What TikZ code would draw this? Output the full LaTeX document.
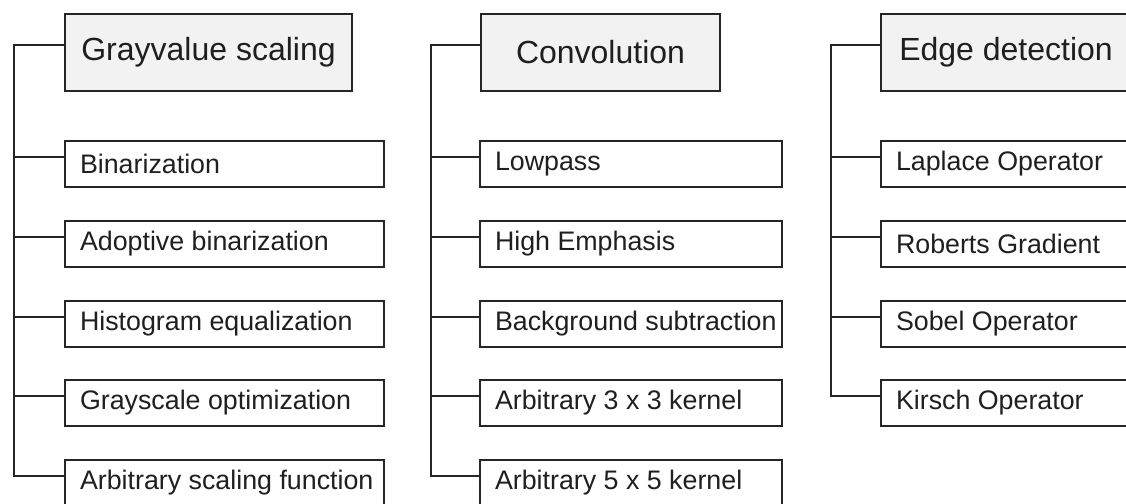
\documentclass[tikz,border=0pt]{standalone}
\usepackage{fontspec}
\setmainfont{Liberation Sans}
\usetikzlibrary{calc}
\begin{document}
\begin{tikzpicture}[x=1pt,y=-1pt,
  base/.style={draw=black!85, rectangle, text=black!88, line width=2pt, inner ysep=0pt, anchor=north west},
  headbox/.style={base, minimum width=#1, minimum height=77pt, fill=black!5,
    font=\fontsize{32}{38}\selectfont, inner xsep=0pt},
  itembox/.style={base, minimum height=46pt, inner xsep=15pt,
    font=\fontsize{26.8}{31}\selectfont,
    execute at begin node={\hbox to #1\bgroup}, execute at end node={\hss\egroup}},
  link/.style={draw=black!85, line width=2pt}]
\useasboundingbox (0,0) rectangle (1126,503);
\fill[white] (0,0) rectangle (1126,503);

% column 1
\node[headbox=287pt] (h1) at (64,13) {Grayvalue scaling};
\node[itembox=289pt] (c11) at (64,140) {Binarization};
\node[itembox=289pt] (c12) at (64,220) {Adoptive binarization};
\node[itembox=289pt] (c13) at (64,300) {Histogram equalization};
\node[itembox=289pt] (c14) at (64,379) {Grayscale optimization};
\node[itembox=289pt] (c15) at (64,459) {Arbitrary scaling function};
\coordinate (t1) at (14,0);

% column 2
\node[headbox=239pt] (h2) at (480,13) {Convolution};
\node[itembox=272pt] (c21) at (479,140) {Lowpass};
\node[itembox=272pt] (c22) at (479,220) {High Emphasis};
\node[itembox=272pt] (c23) at (479,300) {Background subtraction};
\node[itembox=272pt] (c24) at (479,379) {Arbitrary 3 x 3 kernel};
\node[itembox=272pt] (c25) at (479,459) {Arbitrary 5 x 5 kernel};
\coordinate (t2) at (431,0);

% column 3
\node[headbox=250pt] (h3) at (880,13) {Edge detection};
\node[itembox=272pt] (c31) at (880,140) {Laplace Operator};
\node[itembox=272pt] (c32) at (880,220) {Roberts Gradient};
\node[itembox=272pt] (c33) at (880,300) {Sobel Operator};
\node[itembox=272pt] (c34) at (880,379) {Kirsch Operator};
\coordinate (t3) at (831,0);

% branch points
\foreach \n in {h1,h2,h3}
  \coordinate (\n-b) at ($(\n.north west)!0.4!(\n.south west)$);
\foreach \n in {c11,c12,c13,c14,c15,c21,c22,c23,c24,c25,c31,c32,c33,c34}
  \coordinate (\n-b) at ($(\n.north west)!0.35!(\n.south west)$);

% connectors
\draw[link] (h1-b) -- (h1-b -| t1) -- (c15-b -| t1) -- (c15-b);
\foreach \n in {c11,c12,c13,c14} \draw[link] (\n-b) -- (\n-b -| t1);
\draw[link] (h2-b) -- (h2-b -| t2) -- (c25-b -| t2) -- (c25-b);
\foreach \n in {c21,c22,c23,c24} \draw[link] (\n-b) -- (\n-b -| t2);
\draw[link] (h3-b) -- (h3-b -| t3) -- (c34-b -| t3) -- (c34-b);
\foreach \n in {c31,c32,c33} \draw[link] (\n-b) -- (\n-b -| t3);
\end{tikzpicture}
\end{document}
